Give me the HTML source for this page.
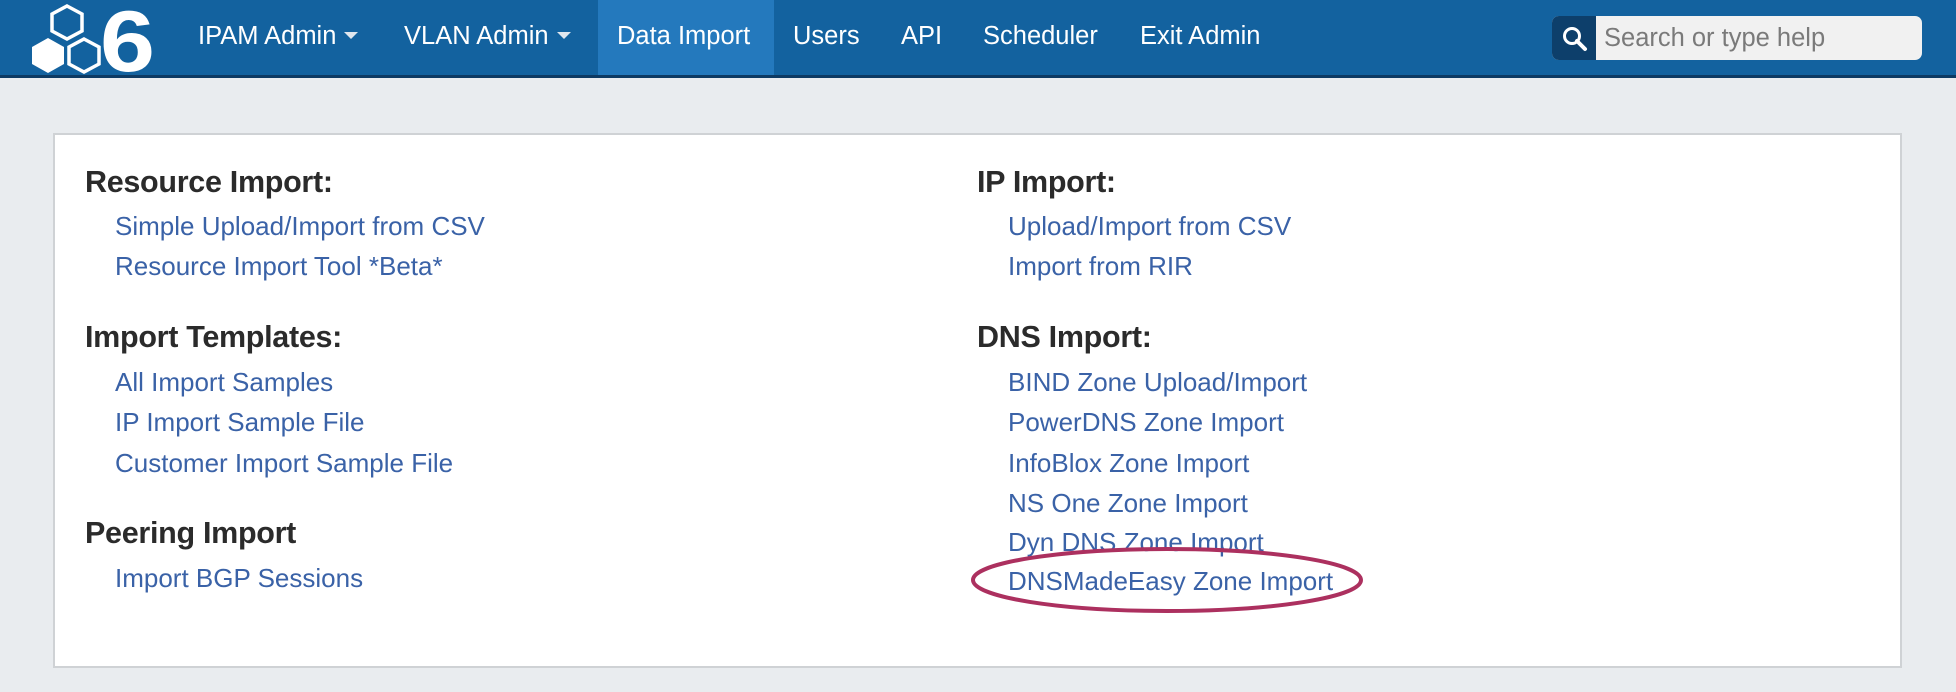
<!DOCTYPE html>
<html><head><meta charset="utf-8"><style>
*{margin:0;padding:0;box-sizing:border-box}
body{width:1956px;height:692px;background:#e9ecef;font-family:"Liberation Sans",Arial,sans-serif;position:relative;overflow:hidden}
#hdr{position:absolute;left:0;top:0;width:1956px;height:78px;background:#13629f;border-bottom:3px solid #0d3a63}
.nav{position:absolute;top:24px;color:#fff;font-size:25.5px;line-height:25px;white-space:nowrap}
.car{display:inline-block;width:0;height:0;border-left:7px solid transparent;border-right:7px solid transparent;border-top:7px solid #dfe6ee;vertical-align:middle;margin-left:8px;margin-top:-3px}
#act{position:absolute;left:598px;top:0;width:176px;height:75px;background:#2479bd}
#panel{position:absolute;left:53px;top:133px;width:1849px;height:535px;background:#fff;border:2px solid #cfd2d5}
.h{position:absolute;font-size:30.5px;font-weight:bold;color:#2b2b2b;line-height:30px;white-space:nowrap;letter-spacing:-0.3px}
.l{position:absolute;font-size:26px;color:#3a62a7;line-height:26px;white-space:nowrap}
</style></head><body>
<div id="hdr"></div>
<div id="act"></div>
<svg style="position:absolute;left:0;top:0" width="170" height="78">
<polygon points="67,6 82,14 82,31 67,39 52,31 52,14" fill="none" stroke="#fff" stroke-width="3.5"/>
<polygon points="48,38 64,47 64,64 48,73 32,64 32,47" fill="#fff"/>
<polygon points="84,39 99,47 99,64 84,72 69,64 69,47" fill="none" stroke="#fff" stroke-width="3.5"/>
<text x="100" y="71" font-family="Liberation Sans" font-weight="bold" font-size="86" fill="#fff" transform="translate(100 0) scale(1.15 1) translate(-100 0)">6</text>
</svg>
<div class="nav" style="left:198px">IPAM Admin<span class="car"></span></div>
<div class="nav" style="left:404px">VLAN Admin<span class="car"></span></div>
<div class="nav" style="left:617px">Data Import</div>
<div class="nav" style="left:793px">Users</div>
<div class="nav" style="left:901px">API</div>
<div class="nav" style="left:983px">Scheduler</div>
<div class="nav" style="left:1140px">Exit Admin</div>
<div style="position:absolute;left:1552px;top:16px;width:370px;height:44px;border-radius:7px;background:#f1f1f1;overflow:hidden">
<div style="position:absolute;left:0;top:0;width:44px;height:44px;background:#0d3f6b"></div>
<svg style="position:absolute;left:8px;top:8px" width="30" height="30"><circle cx="12" cy="12" r="7.5" fill="none" stroke="#fff" stroke-width="3"/><line x1="17" y1="17" x2="25" y2="25" stroke="#fff" stroke-width="4" stroke-linecap="round"/></svg>
<div style="position:absolute;left:52px;top:10px;font-size:25.5px;line-height:25px;color:#7a7a7a">Search or type help</div>
</div>
<div id="panel"></div>
<div class="h" style="left:85px;top:167px">Resource Import:</div>
<div class="l" style="left:115px;top:213px">Simple Upload/Import from CSV</div>
<div class="l" style="left:115px;top:253px">Resource Import Tool *Beta*</div>
<div class="h" style="left:85px;top:322px">Import Templates:</div>
<div class="l" style="left:115px;top:369px">All Import Samples</div>
<div class="l" style="left:115px;top:409px">IP Import Sample File</div>
<div class="l" style="left:115px;top:450px">Customer Import Sample File</div>
<div class="h" style="left:85px;top:518px">Peering Import</div>
<div class="l" style="left:115px;top:565px">Import BGP Sessions</div>
<div class="h" style="left:977px;top:167px">IP Import:</div>
<div class="l" style="left:1008px;top:213px">Upload/Import from CSV</div>
<div class="l" style="left:1008px;top:253px">Import from RIR</div>
<div class="h" style="left:977px;top:322px">DNS Import:</div>
<div class="l" style="left:1008px;top:369px">BIND Zone Upload/Import</div>
<div class="l" style="left:1008px;top:409px">PowerDNS Zone Import</div>
<div class="l" style="left:1008px;top:450px">InfoBlox Zone Import</div>
<div class="l" style="left:1008px;top:490px">NS One Zone Import</div>
<div class="l" style="left:1008px;top:529px">Dyn DNS Zone Import</div>
<div class="l" style="left:1008px;top:568px">DNSMadeEasy Zone Import</div>
<svg style="position:absolute;left:0;top:0" width="1956" height="692"><ellipse cx="1167" cy="580" rx="194" ry="31" fill="none" stroke="#ac305f" stroke-width="4"/></svg>
</body></html>
